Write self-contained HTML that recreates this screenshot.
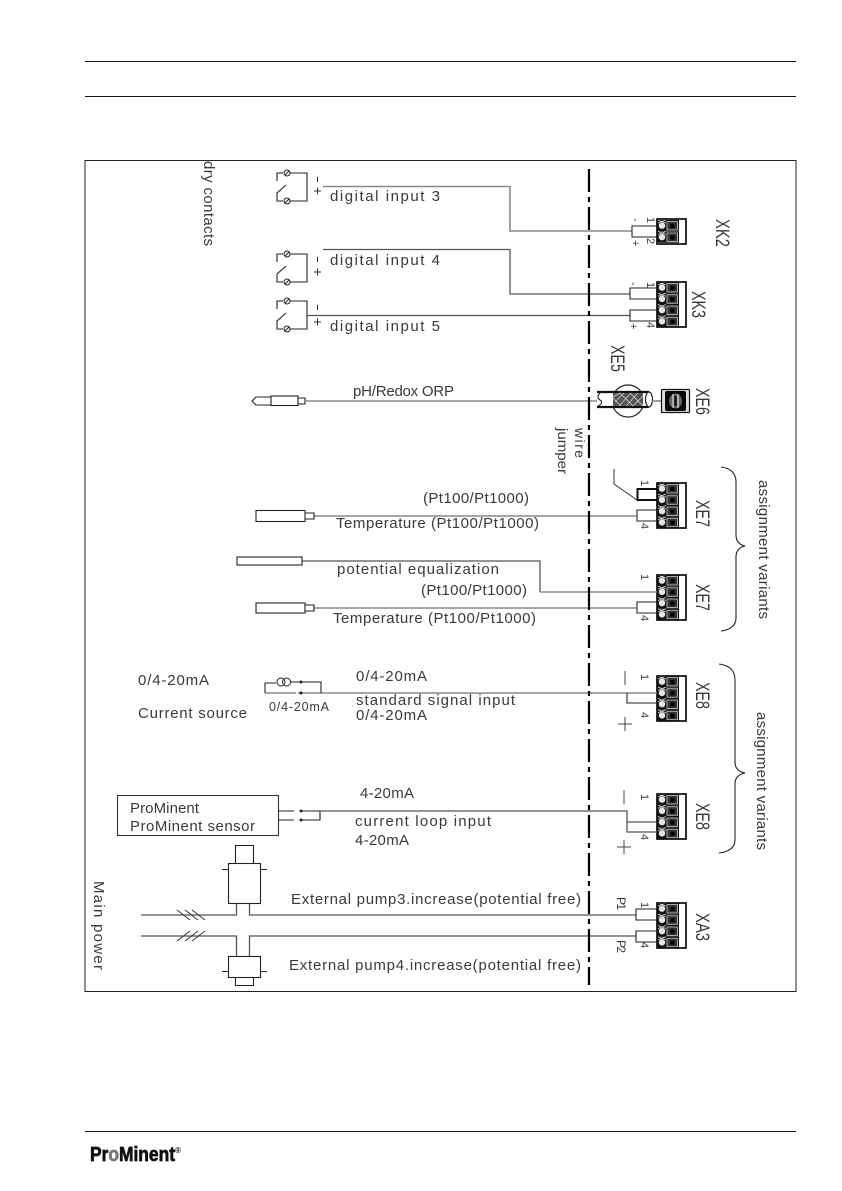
<!DOCTYPE html>
<html><head><meta charset="utf-8"><title>Wiring diagram</title>
<style>
html,body{margin:0;padding:0;background:#fff;width:842px;height:1191px;overflow:hidden}
svg{display:block}
text{font-family:"Liberation Sans",sans-serif;font-size:15px;fill:#3a3a3a}
.s{font-size:11px}
.x{font-size:19px}
.w{stroke:#888;stroke-width:1.6;fill:none}
.d{stroke:#555;stroke-width:1.3;fill:none}
.k{stroke:#222;stroke-width:1.1;fill:none}
</style></head><body>
<svg width="842" height="1191" viewBox="0 0 842 1191">
<defs>
<g id="pole">
<rect x="0" y="0" width="22" height="11.25" fill="#111"/>
<circle cx="5" cy="5.6" r="3.6" fill="#e4e4e4" stroke="#222" stroke-width=".8"/>
<path d="M1 0L9 3M9 0L1 3" stroke="#ddd" stroke-width=".8"/>
<rect x="10" y="1.5" width="10.5" height="8.5" fill="#333" stroke="#ccc" stroke-width=".8"/>
<rect x="13.5" y="4" width="4" height="4" fill="#000"/>
</g>
<g id="c4">
<rect x="0" y="0" width="29" height="45" fill="#fff" stroke="#111" stroke-width="1.5"/>
<use href="#pole" y="0"/><use href="#pole" y="11.25"/><use href="#pole" y="22.5"/><use href="#pole" y="33.75"/>
<rect x="0" y="0" width="29" height="45" fill="none" stroke="#111" stroke-width="1.5"/>
</g>
<g id="sw">
<path class="k" d="M-4 0H-10V8M-10 27V20L-1 12M-10 27V28H-4M3 0H20V28H3"/>
<circle cx="0" cy="0" r="3" fill="#fff" stroke="#222"/><circle cx="0" cy="28" r="3" fill="#fff" stroke="#222"/>
<path d="M-2 2L2-2M-2 30L2 26" stroke="#222"/>
</g>
</defs>

<!-- header / footer -->
<path d="M85 61.5H796M85 96.5H796M85 1131.5H796" stroke="#111" stroke-width="1"/>
<rect x="85" y="160.5" width="711" height="831" fill="none" stroke="#222" stroke-width="1"/>

<!-- switches -->
<use href="#sw" transform="translate(287,173)"/>
<use href="#sw" transform="translate(287,254)"/>
<use href="#sw" transform="translate(287,301)"/>
<path d="M317.5 177V182M314 191H321M317.5 187.500V194.500M317.5 257V262M314 272H321M317.500 268.500V275.500M317.500 305V310M314 322H321M317.500 318.500V325.500" stroke="#333" stroke-width="1"/>

<!-- digital wires -->
<path class="w" d="M323 186.500H510V231H632"/>
<path class="d" d="M323 249.500H510V294H630"/>
<path class="d" d="M307 315.500H630"/>
<path class="k" d="M657 226H632V237H657"/>
<path class="k" d="M657 288H630V299H657M657 310H630V321H657"/>

<!-- connectors -->
<g>
<rect x="657" y="219" width="29" height="25" fill="#fff" stroke="#111" stroke-width="1.500"/>
<use href="#pole" transform="translate(657,220)"/><use href="#pole" transform="translate(657,231.500)"/>
<rect x="657" y="219" width="29" height="25" fill="none" stroke="#111" stroke-width="1.500"/>
</g>
<use href="#c4" transform="translate(657,282)"/>
<use href="#c4" transform="translate(657,483)"/>
<use href="#c4" transform="translate(657,575)"/>
<use href="#c4" transform="translate(657,676)"/>
<use href="#c4" transform="translate(657,794)"/>
<use href="#c4" transform="translate(657,903)"/>

<!-- pH -->
<path class="w" d="M306 401H598"/>
<path class="k" d="M271 397H256L252 401L256 405H271"/>
<rect x="271" y="396" width="27" height="9.500" fill="#fff" stroke="#222" stroke-width="1.100"/>
<path class="k" d="M298 398H305V404H298"/>
<circle cx="628" cy="401" r="16" fill="#fff" stroke="#222" stroke-width="1.200"/>
<rect x="597" y="392" width="52" height="15" fill="#fff"/>
<path d="M597 392H649M597 407H649" stroke="#111" stroke-width="2.200"/>
<path class="k" d="M600 393Q596 397 600 400Q604 403 598 406"/>
<rect x="613" y="393" width="30" height="13" fill="#555"/>
<path d="M613 397L620 393M615 402L624 393M619 406L631 393M626 406L638 393M633 406L643 396M613 398L621 406M620 393L633 406M630 393L643 406" stroke="#ccc" stroke-width=".8"/>
<ellipse cx="649" cy="399.500" rx="3.500" ry="7.500" fill="#fff" stroke="#222" stroke-width="1.200"/>
<path class="w" d="M652 401H661"/>
<rect x="661.500" y="389.500" width="28" height="23" rx="1" fill="#ddd" stroke="#111" stroke-width="1.200"/>
<rect x="665" y="391" width="21" height="20" rx="2" fill="#080808"/>
<ellipse cx="675.500" cy="401" rx="7" ry="8" fill="#666" stroke="#000"/>
<path d="M673 394V408M678 394V408" stroke="#eee" stroke-width="1"/>
<path d="M675.500 396V406" stroke="#000" stroke-width="2"/>

<!-- temperature / jumper -->
<path class="w" d="M314 516H637"/>
<rect x="256" y="510.500" width="49" height="11" fill="#fff" stroke="#222" stroke-width="1.100"/>
<path class="k" d="M305 513H314V519H305"/>
<path d="M657 489H637.500V500H657" stroke="#111" stroke-width="2" fill="none"/>
<path d="M637 500L614 484V469" stroke="#333" stroke-width="1" fill="none"/>
<path class="k" d="M657 510H637V521H657"/>

<path class="d" d="M302 561H540V592"/>
<path class="w" d="M540 592H657"/>
<rect x="237" y="557" width="65" height="8" fill="#fff" stroke="#222" stroke-width="1.100"/>
<path class="w" d="M314 608H637"/>
<rect x="256" y="603" width="49" height="10" fill="#fff" stroke="#222" stroke-width="1.100"/>
<path class="k" d="M305 605H314V611H305"/>
<path class="k" d="M657 602H637V613H657"/>

<!-- braces -->
<path class="k" d="M721 467Q736 469 736 482V535Q736 544 745 546Q736 548 736 557V618Q736 629 721 631"/>
<path class="k" d="M719 664Q735 666 735 680V762Q735 771 745 773Q735 775 735 784V840Q735 851 719 853"/>

<!-- current source -->
<path class="w" d="M265 693H657"/>
<path class="k" d="M265 693V683H276M291 682H321V693M627 693V703H657"/>
<circle cx="281" cy="682" r="4" fill="#fff" stroke="#222"/><circle cx="286.500" cy="682" r="4" fill="none" stroke="#222"/>
<circle cx="301" cy="682" r="1.500" fill="#222"/><circle cx="301" cy="693" r="1.500" fill="#222"/>
<path d="M296 693H298" stroke="#fff" stroke-width="3"/>

<!-- sensor -->
<rect x="117.500" y="795.500" width="161" height="40" fill="#fff" stroke="#333" stroke-width="1.100"/>
<path class="k" d="M278 811H294M278 820H294M301 811H320M301 820H320V811"/>
<circle cx="301" cy="811" r="1.500" fill="#222"/><circle cx="301" cy="820" r="1.500" fill="#222"/>
<path class="d" d="M320 811H627V832H657M627 822H657"/>

<!-- main power -->
<path class="d" d="M141 915H236.500V903M249.500 903V915H636"/>
<path class="d" d="M141 936H236.500V956M249.500 956V936H636"/>
<path class="k" d="M657 909H636V920H657M657 931H636V942H657"/>
<rect x="228.500" y="863.500" width="32" height="40" fill="#fff" stroke="#222" stroke-width="1.100"/>
<path class="k" d="M235.500 863V845.500H253.500V863M222 869.500H228M261 869.500H267"/>
<rect x="228.500" y="956.500" width="32" height="21" fill="#fff" stroke="#222" stroke-width="1.100"/>
<path class="k" d="M235.500 978V985.500H253.500V978M222 971.500H228M261 971.500H267"/>
<path d="M177 910L190 920M185 910L198 920M192 910L205 920M177 941L190 931M185 941L198 931M192 941L205 931" stroke="#333" stroke-width="1"/>

<!-- plus/minus -->
<path d="M625 671V685M618 724H632M625 717V731M624 790V804M617 847H631M624 840V854" stroke="#444" stroke-width="1"/>

<!-- dash-dot separator -->
<line x1="589" y1="169" x2="589" y2="985" stroke="#000" stroke-width="2.200" stroke-dasharray="23 5 5 5"/>

<!-- main labels -->
<text x="330" y="201" textLength="110">digital  input  3</text>
<text x="330" y="265" textLength="110">digital  input  4</text>
<text x="330" y="331" textLength="110">digital  input  5</text>
<text x="353" y="396" textLength="101">pH/Redox ORP</text>
<text x="423" y="503" textLength="106">(Pt100/Pt1000)</text>
<text x="336" y="528" textLength="203">Temperature (Pt100/Pt1000)</text>
<text x="337" y="574" textLength="162">potential  equalization</text>
<text x="421" y="595" textLength="106">(Pt100/Pt1000)</text>
<text x="333" y="623" textLength="203">Temperature (Pt100/Pt1000)</text>
<text x="138" y="685" textLength="71">0/4-20mA</text>
<text x="138" y="718" textLength="109">Current  source</text>
<text x="269" y="711" textLength="60" style="font-size:12.500px">0/4-20mA</text>
<text x="356" y="681" textLength="71">0/4-20mA</text>
<text x="356" y="705" textLength="159">standard  signal  input</text>
<text x="356" y="720" textLength="71">0/4-20mA</text>
<text x="360" y="798" textLength="54">4-20mA</text>
<text x="355" y="826" textLength="136">current  loop  input</text>
<text x="355" y="845" textLength="54">4-20mA</text>
<text x="130" y="813" textLength="69">ProMinent</text>
<text x="130" y="831" textLength="125">ProMinent  sensor</text>
<text x="291" y="904" textLength="290">External pump3.increase(potential  free)</text>
<text x="289" y="970" textLength="292">External pump4.increase(potential  free)</text>

<!-- rotated labels -->
<text transform="translate(204,161) rotate(90)" textLength="85">dry  contacts</text>
<text transform="translate(94,881) rotate(90)" textLength="89">Main  power</text>
<text transform="translate(575,428) rotate(90)" textLength="30" style="font-size:14px">wire</text>
<text transform="translate(558,428) rotate(90)" textLength="46" lengthAdjust="spacingAndGlyphs" style="font-size:14px">jumper</text>
<text class="x" transform="translate(716,219) rotate(90)" textLength="28" lengthAdjust="spacingAndGlyphs">XK2</text>
<text class="x" transform="translate(692,291) rotate(90)" textLength="27" lengthAdjust="spacingAndGlyphs">XK3</text>
<text class="x" transform="translate(611,345) rotate(90)" textLength="27" lengthAdjust="spacingAndGlyphs">XE5</text>
<text class="x" transform="translate(696,388) rotate(90)" textLength="27" lengthAdjust="spacingAndGlyphs">XE6</text>
<text class="x" transform="translate(696,500) rotate(90)" textLength="27" lengthAdjust="spacingAndGlyphs">XE7</text>
<text class="x" transform="translate(696,584) rotate(90)" textLength="27" lengthAdjust="spacingAndGlyphs">XE7</text>
<text class="x" transform="translate(696,682) rotate(90)" textLength="27" lengthAdjust="spacingAndGlyphs">XE8</text>
<text class="x" transform="translate(696,803) rotate(90)" textLength="27" lengthAdjust="spacingAndGlyphs">XE8</text>
<text class="x" transform="translate(696,913) rotate(90)" textLength="28" lengthAdjust="spacingAndGlyphs">XA3</text>
<text transform="translate(759,480) rotate(90)" textLength="139">assignment  variants</text>
<text transform="translate(757,712) rotate(90)" textLength="138">assignment  variants</text>
<text transform="translate(617,897) rotate(90)" textLength="13" style="font-size:12px">P1</text>
<text transform="translate(617,940) rotate(90)" textLength="13" style="font-size:12px">P2</text>

<!-- pin labels -->
<text class="s" transform="translate(647,217) rotate(90)">1</text>
<text class="s" transform="translate(647,238) rotate(90)">2</text>
<text class="s" transform="translate(632,218) rotate(90)">-</text>
<text class="s" transform="translate(632,240) rotate(90)">+</text>
<text class="s" transform="translate(647,282) rotate(90)">1</text>
<text class="s" transform="translate(647,322) rotate(90)">4</text>
<text class="s" transform="translate(630,282) rotate(90)">-</text>
<text class="s" transform="translate(630,323) rotate(90)">+</text>
<text class="s" transform="translate(641,480) rotate(90)">1</text>
<text class="s" transform="translate(641,523) rotate(90)">4</text>
<text class="s" transform="translate(641,574) rotate(90)">1</text>
<text class="s" transform="translate(641,615) rotate(90)">4</text>
<text class="s" transform="translate(641,674) rotate(90)">1</text>
<text class="s" transform="translate(641,712) rotate(90)">4</text>
<text class="s" transform="translate(641,794) rotate(90)">1</text>
<text class="s" transform="translate(641,834) rotate(90)">4</text>
<text class="s" transform="translate(641,902) rotate(90)">1</text>
<text class="s" transform="translate(641,942) rotate(90)">4</text>

<!-- logo -->
<text x="90" y="1161" textLength="85" lengthAdjust="spacingAndGlyphs" style="font-size:20px;font-weight:bold;fill:#111;stroke:#111;stroke-width:.7">Pr<tspan style="fill:#777;stroke:#777">o</tspan>Minent</text>
<text x="175" y="1153" style="font-size:8px;font-weight:bold;fill:#111">®</text>
</svg>
</body></html>
